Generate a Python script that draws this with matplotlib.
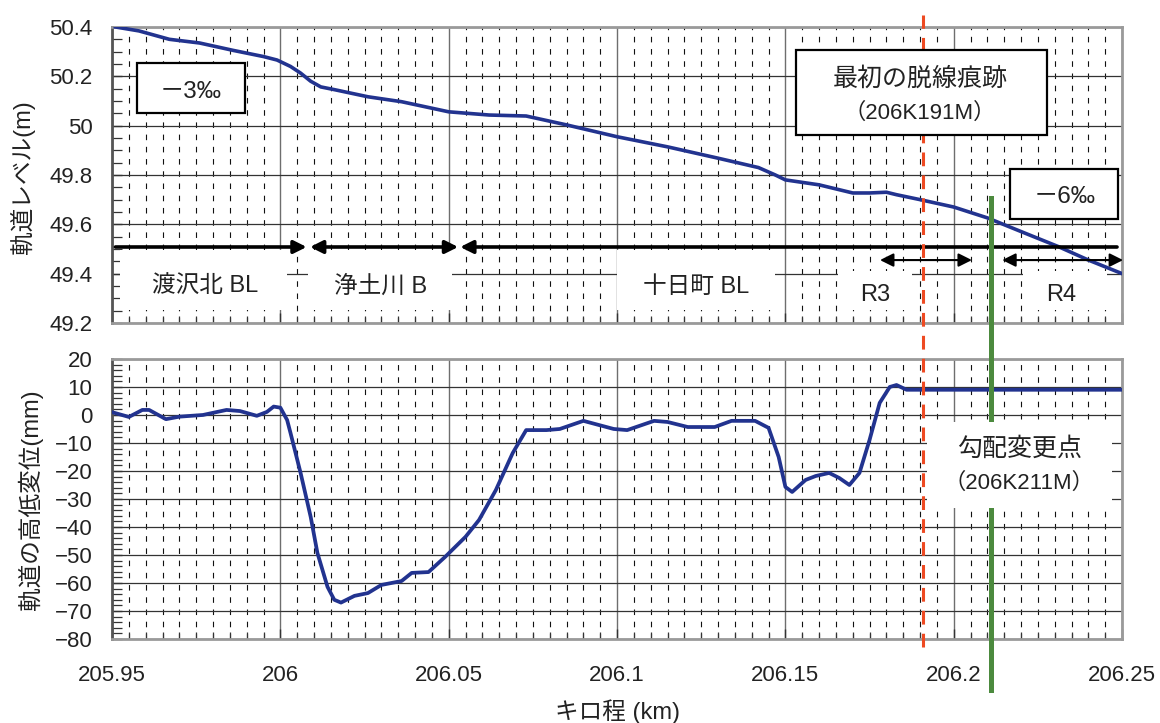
import matplotlib
matplotlib.use("Agg")
import matplotlib.pyplot as plt
import matplotlib.patches as patches
from matplotlib.ticker import MultipleLocator, FuncFormatter

plt.rcParams["font.family"] = ["Liberation Sans", "Noto Sans CJK JP", "DejaVu Sans"]

# track level (m) along the kilometrage
level_km = [205.951, 205.958, 205.967, 205.976, 205.986, 205.995, 205.999,
            206.003, 206.006, 206.009, 206.012, 206.016, 206.026, 206.036,
            206.050, 206.062, 206.073, 206.085, 206.100, 206.115, 206.130,
            206.142, 206.147, 206.150, 206.154, 206.160, 206.170, 206.175,
            206.180, 206.183, 206.190, 206.200, 206.210, 206.221, 206.231,
            206.240, 206.250]
level_m = [50.400, 50.384, 50.350, 50.335, 50.305, 50.280, 50.266,
           50.240, 50.213, 50.180, 50.157, 50.146, 50.117, 50.097,
           50.056, 50.043, 50.039, 50.003, 49.955, 49.914, 49.868,
           49.830, 49.800, 49.780, 49.772, 49.760, 49.727, 49.727,
           49.730, 49.720, 49.700, 49.670, 49.626, 49.565, 49.510,
           49.455, 49.400]

# vertical track irregularity (mm)
irreg_km = [205.950, 205.955, 205.959, 205.961, 205.966, 205.970, 205.977,
            205.984, 205.988, 205.993, 205.996, 205.998, 206.000, 206.002,
            206.003, 206.006, 206.009, 206.011, 206.014, 206.016, 206.018,
            206.022, 206.026, 206.030, 206.036, 206.039, 206.044, 206.049,
            206.055, 206.059, 206.064, 206.069, 206.073, 206.079, 206.083,
            206.090, 206.099, 206.103, 206.111, 206.115, 206.121, 206.129,
            206.134, 206.141, 206.145, 206.148, 206.150, 206.152, 206.156,
            206.159, 206.163, 206.166, 206.169, 206.172, 206.175, 206.178,
            206.181, 206.183, 206.186, 206.189, 206.250]
irreg_mm = [1.0, -0.7, 1.8, 1.8, -1.5, -0.6, 0.0,
            1.8, 1.4, -0.3, 1.1, 3.0, 2.6, -1.8,
            -6.4, -20.7, -36.4, -49.3, -61.4, -66.0, -67.0,
            -64.6, -63.6, -60.7, -59.3, -56.4, -56.1, -50.6,
            -43.5, -37.5, -26.8, -13.6, -5.4, -5.4, -5.0,
            -2.1, -5.0, -5.4, -2.1, -2.5, -4.3, -4.3,
            -2.1, -2.1, -4.6, -15.0, -25.7, -27.5, -23.2,
            -21.8, -20.7, -22.5, -25.0, -20.7, -8.9, 4.3,
            10.0, 10.7, 9.0, 9.0, 9.0]

FIRST_MARK_KM = 206.191    # first derailment mark
GRADE_CHANGE_KM = 206.211  # gradient change point

# track sections: (start, end, arrow style)
sections = [(205.951, 206.0078, "-|>"),
            (206.0088, 206.0528, "<|-|>"),
            (206.2485, 206.0534, "-|>")]
section_names = ["渡沢北 BL", "浄土川 B", "十日町 BL"]
section_label_km = [205.9776, 206.0299, 206.1235]
curves = [(206.1781, 206.2054), (206.2144, 206.2503)]
curve_names = ["R3", "R4"]
curve_label_km = [206.1766, 206.2320]

BLUE = "#22338f"
RED = "#ee4a22"
GREEN = "#4c8a3e"
TXT = "#222222"

fig = plt.figure(figsize=(11.6, 7.23), dpi=100)
ax1 = fig.add_axes([0.0966, 0.5533, 0.8707, 0.4094])
ax2 = fig.add_axes([0.0966, 0.1162, 0.8707, 0.3873])
ax1.set_zorder(2)
ax1.patch.set_visible(False)


def style(ax, ymajor, yminor):
    ax.set_xlim(205.95, 206.25)
    ax.xaxis.set_major_locator(MultipleLocator(0.05))
    ax.xaxis.set_minor_locator(MultipleLocator(0.005))
    ax.yaxis.set_major_locator(MultipleLocator(ymajor))
    ax.yaxis.set_minor_locator(MultipleLocator(yminor))
    ax.set_axisbelow(True)
    ax.grid(which="major", axis="x", color="#6e6e6e", lw=1.0)
    ax.grid(which="minor", axis="x", color="#111111", lw=0.8, linestyle=(0, (5, 6)))
    ax.grid(which="major", axis="y", color="#333333", lw=0.9)
    ax.tick_params(which="both", direction="in", color="#333333",
                   labelcolor=TXT, labelsize=16)
    ax.tick_params(which="major", length=7, width=1)
    ax.tick_params(axis="x", which="minor", length=5, width=0.9)
    ax.tick_params(axis="y", which="minor", length=7, width=0.9)
    ax.tick_params(axis="y", pad=14)
    ax.tick_params(axis="x", pad=19)
    fmt = FuncFormatter(lambda v, p: f"{v:g}".replace("-", "\u2212"))
    ax.xaxis.set_major_formatter(fmt)
    ax.yaxis.set_major_formatter(fmt)
    for side, sp in ax.spines.items():
        sp.set_linewidth(2.0)
        sp.set_color("#555555" if side == "left" else "#9a9a9a")


style(ax1, 0.2, 0.05)
style(ax2, 10, 2)
ax1.set_ylim(49.2, 50.4)
ax2.set_ylim(-80, 20)
ax1.tick_params(labelbottom=False)

ax1.plot(level_km, level_m, color=BLUE, lw=2.6, zorder=3)
ax2.plot(irreg_km, irreg_mm, color=BLUE, lw=2.7, zorder=3)

# white cut-outs behind the section names
for x0, x1, y0, y1 in [(205.9525, 206.0020, 49.253, 49.496),
                       (206.0082, 206.0510, 49.253, 49.496),
                       (206.1000, 206.1469, 49.253, 49.496),
                       (206.1656, 206.1876, 49.253, 49.410),
                       (206.2206, 206.2455, 49.253, 49.410)]:
    ax1.add_patch(patches.Rectangle((x0, y0), x1 - x0, y1 - y0, facecolor="white",
                                    edgecolor="none", zorder=1))

for (a, b, st) in sections:
    ax1.annotate("", xy=(b, 49.508), xytext=(a, 49.508),
                 arrowprops=dict(arrowstyle=st, color="black", lw=2.6,
                                 mutation_scale=19, shrinkA=0, shrinkB=0),
                 zorder=3)
for name, x in zip(section_names, section_label_km):
    ax1.text(x, 49.346, name, ha="center", va="center", fontsize=17,
             color=TXT, zorder=3)

for (a, b) in curves:
    ax1.annotate("", xy=(b, 49.455), xytext=(a, 49.455),
                 arrowprops=dict(arrowstyle="<|-|>", color="black", lw=1.5,
                                 mutation_scale=20, shrinkA=0, shrinkB=0),
                 zorder=3, annotation_clip=False)
for name, x in zip(curve_names, curve_label_km):
    ax1.text(x, 49.314, name, ha="center", va="center", fontsize=17,
             color=TXT, zorder=3)

# gradient boxes
for (x0, x1, y0, y1, tx, ty, s) in [
        (205.9574, 205.9895, 50.0514, 50.254, 205.9733, 50.138, "－3‰"),
        (206.2167, 206.2488, 49.6217, 49.8244, 206.2328, 49.710, "－6‰")]:
    ax1.add_patch(patches.Rectangle((x0, y0), x1 - x0, y1 - y0, facecolor="white",
                                    edgecolor="black", lw=1.6, zorder=5))
    ax1.text(tx, ty, s, ha="center", va="center", fontsize=17.5, color=TXT, zorder=6)

# marker lines running through both panels
ax1.axvline(FIRST_MARK_KM, ymin=-1.0946, ymax=1.0405, clip_on=False,
            color=RED, lw=2.2, linestyle=(0, (4.5, 3)), zorder=4)
ax1.axvline(GRADE_CHANGE_KM, ymin=-1.2399, ymax=0.4223, clip_on=False,
            color=GREEN, lw=3.6, zorder=4)

ax1.add_patch(patches.Rectangle((206.1532, 49.9622), 206.2277 - 206.1532,
                                50.3068 - 49.9622, facecolor="white",
                                edgecolor="black", lw=1.6, zorder=5))
ax1.text(206.190, 50.189, "最初の脱線痕跡", ha="center", va="center",
         fontsize=18, color=TXT, zorder=6)
ax1.text(206.190, 50.051, "（206K191M）", ha="center", va="center",
         fontsize=16, color=TXT, zorder=6)

ax1.add_patch(patches.Rectangle((206.1921, -33.2), 206.2470 - 206.1921, 30.7,
                                transform=ax2.transData, facecolor="white",
                                edgecolor="none", zorder=5, clip_on=False))
ax1.text(206.2195, -12.1, "勾配変更点", transform=ax2.transData, ha="center",
         va="center", fontsize=18, color=TXT, zorder=6, clip_on=False)
ax1.text(206.2195, -24.3, "（206K211M）", transform=ax2.transData, ha="center",
         va="center", fontsize=16, color=TXT, zorder=6, clip_on=False)

fig.text(23 / 1160, 0.755, "軌道レベル(m)", rotation=90, ha="center",
         va="center", fontsize=17, color=TXT)
fig.text(30 / 1160, 0.3085, "軌道の高低変位(mm)", rotation=90, ha="center",
         va="center", fontsize=17, color=TXT)
ax2.set_xlabel("キロ程 (km)", fontsize=17, color=TXT, labelpad=9)

fig.savefig("out.png", dpi=100, facecolor="white")
